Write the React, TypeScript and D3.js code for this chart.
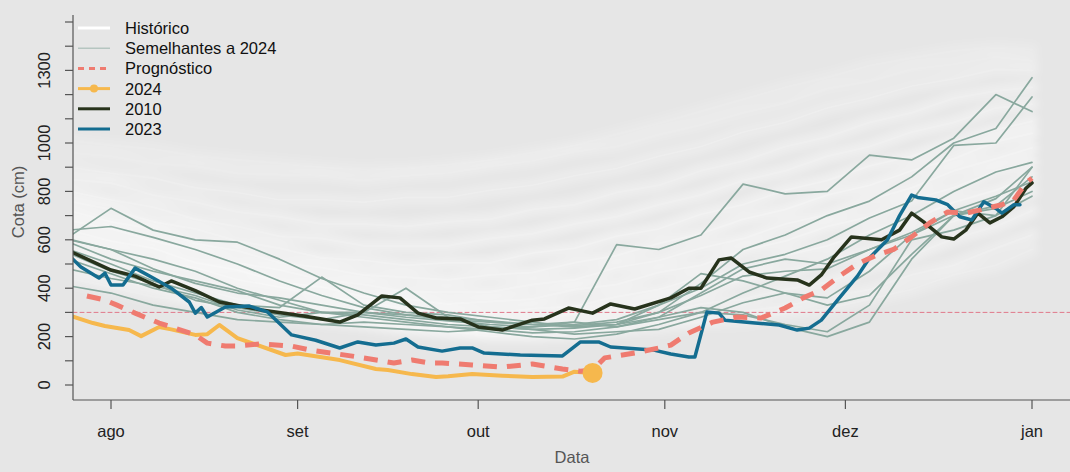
import * as React from "react";
import * as d3 from "d3";

// day offsets from 1 Aug 2024
const gridDays = [-7, 0, 7, 14, 21, 28, 35, 42, 49, 56, 63, 70, 77, 84, 91, 98, 105, 112, 119, 126, 133, 140, 147, 153];

const historico = [
  [1010, 990, 975, 945, 930, 915, 900, 890, 895, 910, 930, 960, 990, 1035, 1080, 1130, 1180, 1230, 1270, 1320, 1350, 1380, 1395, 1385],
  [960, 945, 915, 905, 875, 870, 865, 845, 865, 875, 905, 925, 965, 985, 1035, 1075, 1125, 1165, 1225, 1255, 1305, 1325, 1355, 1340],
  [900, 875, 855, 815, 795, 765, 765, 755, 775, 775, 805, 825, 865, 895, 945, 985, 1045, 1085, 1145, 1185, 1235, 1265, 1305, 1300],
  [850, 835, 785, 755, 715, 695, 665, 665, 655, 675, 685, 725, 745, 795, 825, 885, 925, 985, 1025, 1085, 1125, 1185, 1215, 1230],
  [800, 765, 735, 685, 655, 615, 605, 575, 575, 575, 605, 625, 665, 695, 745, 785, 845, 885, 945, 985, 1045, 1085, 1145, 1160],
  [760, 725, 675, 645, 595, 565, 525, 515, 495, 505, 505, 545, 565, 615, 645, 705, 745, 805, 845, 905, 945, 1005, 1055, 1090],
  [720, 675, 645, 585, 555, 505, 485, 455, 445, 435, 455, 465, 505, 535, 585, 625, 685, 725, 785, 825, 885, 935, 1005, 1040],
  [680, 645, 595, 555, 505, 475, 435, 415, 385, 385, 385, 415, 435, 485, 515, 565, 605, 665, 705, 765, 815, 885, 935, 980],
  [640, 595, 565, 505, 475, 425, 405, 365, 355, 335, 345, 355, 395, 415, 465, 495, 555, 595, 655, 695, 765, 815, 885, 920],
  [600, 565, 515, 485, 435, 405, 365, 345, 315, 305, 295, 315, 325, 365, 395, 445, 475, 535, 575, 635, 685, 755, 805, 860],
  [560, 515, 485, 435, 405, 355, 335, 305, 295, 265, 265, 265, 295, 315, 355, 385, 435, 465, 515, 555, 625, 675, 745, 800],
  [520, 485, 435, 405, 355, 335, 295, 285, 255, 245, 225, 235, 245, 275, 295, 335, 355, 395, 425, 485, 535, 605, 655, 720],
  [480, 435, 405, 355, 335, 295, 285, 255, 245, 215, 215, 205, 225, 235, 265, 275, 305, 325, 365, 395, 455, 495, 565, 620],
  [440, 405, 365, 345, 305, 295, 265, 255, 225, 220, 200, 205, 205, 230, 235, 260, 265, 295, 315, 355, 395, 455, 495, 560],
];
// weight of each historic line in the cloud (denser towards the middle)
const histDensity = [0.35, 0.45, 0.55, 0.7, 0.8, 0.9, 1, 1, 1, 0.95, 0.9, 0.8, 0.65, 0.5];

const semelhantes = [
  [640, 655, 610, 560, 500, 430, 370, 320, 290, 280, 265, 250, 260, 580, 560, 620, 830, 790, 800, 950, 930, 1020, 1200, 1130],
  [612, 730, 640, 600, 590, 520, 440, 380, 330, 300, 280, 260, 240, 250, 300, 420, 560, 620, 700, 760, 860, 1000, 1060, 1270],
  [603, 560, 480, 420, 380, 360, 330, 300, 280, 265, 250, 240, 250, 270, 330, 400, 500, 540, 600, 690, 760, 990, 1000, 1190],
  [590, 520, 470, 430, 390, 330, 300, 300, 290, 270, 260, 250, 245, 260, 300, 370, 450, 470, 480, 560, 620, 700, 770, 900],
  [560, 500, 430, 380, 330, 320, 446, 330, 300, 290, 260, 250, 240, 250, 330, 460, 430, 380, 330, 370, 540, 700, 740, 860],
  [410, 380, 330, 300, 270, 260, 250, 240, 230, 220, 230, 240, 260, 240, 280, 320, 300, 240, 200, 260, 520, 700, 730, 800],
  [545, 470, 420, 350, 320, 290, 270, 300, 400, 280, 240, 230, 210, 220, 230, 280, 340, 380, 360, 470, 620, 720, 700, 900],
  [520, 460, 400, 360, 300, 270, 250, 260, 250, 240, 230, 215, 220, 240, 270, 300, 290, 250, 220, 330, 600, 640, 700, 780],
  [480, 440, 410, 370, 310, 280, 300, 290, 270, 250, 240, 230, 235, 250, 280, 380, 480, 520, 500, 560, 630, 720, 780, 840],
  [600, 560, 520, 470, 400, 350, 300, 280, 260, 240, 220, 200, 190, 210, 250, 300, 380, 450, 520, 620, 700, 800, 880, 920],
];

const days2010 = [-7, 0, 4, 8, 10, 14, 18, 25, 32, 38, 41, 45, 48, 51, 54, 58, 61, 65, 70, 72, 76, 80, 83, 87, 93, 96, 98, 101, 103, 106, 109, 114, 116, 118, 120, 123, 128, 131, 133, 135, 138, 140, 142, 144, 146, 148, 150, 152, 153];
const cota2010 = [555, 475, 450, 405, 430, 390, 343, 310, 285, 260, 290, 368, 360, 297, 277, 273, 240, 227, 268, 273, 318, 297, 335, 314, 360, 400, 400, 517, 525, 467, 442, 434, 413, 455, 525, 612, 600, 640, 710, 674, 612, 603, 640, 710, 670, 695, 737, 813, 835];

const days2023 = [-7, -5, -2, -1, 0, 2, 4, 7, 10, 13, 14, 15, 16, 19, 23, 26, 30, 34, 38, 41, 44, 47, 49, 51, 55, 58, 60, 62, 68, 75, 78, 81, 83, 90, 93, 96, 97, 99, 101, 102, 107, 111, 114, 116, 118, 121, 124, 126, 129, 131, 133, 134, 137, 139, 141, 143, 145, 147, 148, 150, 151];
const cota2023 = [535, 488, 442, 462, 413, 413, 483, 442, 400, 343, 297, 320, 281, 322, 326, 302, 207, 185, 153, 178, 165, 173, 190, 157, 140, 153, 153, 132, 124, 120, 178, 178, 157, 145, 128, 116, 116, 302, 297, 268, 256, 248, 227, 235, 268, 360, 450, 525, 600, 700, 785, 775, 765, 745, 695, 682, 757, 730, 710, 745, 745];

const days2024 = [-7, -3, -1, 3, 5, 8, 10, 14, 16, 18, 21, 29, 31, 38, 44, 46, 50, 54, 56, 60, 65, 70, 75, 77, 80];
const cota2024 = [288, 256, 244, 227, 202, 240, 230, 207, 210, 248, 194, 124, 130, 103, 66, 62, 45, 33, 36, 45, 38, 33, 35, 55, 50];

const daysProg = [-4, -1, 1, 4, 8, 14, 16, 19, 21, 25, 30, 33, 41, 47, 50, 53, 55, 60, 65, 70, 75, 78, 80, 82, 87, 91, 93, 96, 100, 104, 108, 112, 115, 118, 121, 124, 127, 130, 133, 136, 139, 142, 145, 148, 150, 152, 153];
const cotaProg = [368, 351, 330, 297, 256, 207, 173, 161, 161, 170, 161, 145, 116, 91, 103, 91, 91, 83, 74, 87, 66, 57, 62, 112, 132, 153, 165, 215, 260, 281, 277, 318, 360, 393, 450, 500, 535, 560, 612, 670, 715, 710, 727, 745, 765, 835, 855];

const refLevel = 300;
const monthLabels = ["ago", "set", "out", "nov", "dez", "jan"];
const yTicks = d3.range(0, 1600, 100);
const yLabels = [0, 200, 400, 600, 800, 1000, 1300];

const legendItems = ["Histórico", "Semelhantes a 2024", "Prognóstico", "2024", "2010", "2023"];

const colors = {
  bg: "#e6e6e6",
  hist: "#ffffff",
  similar: "#89a89e",
  prog: "#ef7b70",
  y2024: "#f6b84d",
  y2010: "#27331c",
  y2023: "#146d90",
  ref: "#e0788a",
};

const start = Date.UTC(2024, 7, 1);
const toDate = (d: number) => d3.utcDay.offset(new Date(start), d);

const App = () => {
  const width = 1070;
  const height = 472;
  const left = 73;
  const bottom = 400;
  const top = 15;

  const x = d3
    .scaleUtc()
    .domain([new Date(start), new Date(Date.UTC(2025, 0, 1))])
    .range([111, 1032]);
  const y = d3.scaleLinear().domain([0, 1500]).range([385, 22]);

  const line = d3
    .line<[number, number]>()
    .x(p => x(toDate(p[0])))
    .y(p => y(p[1]));

  const zip = (ds: number[], vs: number[]) => ds.map((d, i) => [d, vs[i]] as [number, number]);

  const monthTicks = d3.utcMonth.range(new Date(start), new Date(Date.UTC(2025, 0, 2)));
  const font = "'Liberation Sans', Arial, Helvetica, sans-serif";
  const last2024 = days2024.length - 1;

  return (
    <svg
      width={width}
      height={height}
      style={{ position: "absolute", left: 0, top: 0, background: colors.bg }}
      fontFamily={font}
    >
      <defs>
        <clipPath id="plot">
          <rect x={left} y={top} width={width - left} height={bottom - top} />
        </clipPath>
        <filter id="cloud" x="-5%" y="-20%" width="110%" height="140%">
          <feGaussianBlur stdDeviation="3.5" />
        </filter>
      </defs>
      <rect width={width} height={height} fill={colors.bg} />

      <g clipPath="url(#plot)" fill="none" strokeLinejoin="round" strokeLinecap="round">
        <g filter="url(#cloud)">
          {historico.map((h, i) => (
            <path
              key={"h" + i}
              d={line(zip(gridDays, h)) || ""}
              stroke={colors.hist}
              strokeWidth={14}
              strokeOpacity={0.42 * histDensity[i]}
            />
          ))}
        </g>
        {historico.map((h, i) => (
          <path
            key={"hh" + i}
            d={line(zip(gridDays, h)) || ""}
            stroke={colors.hist}
            strokeWidth={2}
            strokeOpacity={0.2 * histDensity[i]}
          />
        ))}
        <line x1={left} x2={width} y1={y(refLevel)} y2={y(refLevel)} stroke={colors.ref} strokeWidth={1} strokeDasharray="4 3" />
        {semelhantes.map((s, i) => (
          <path key={"s" + i} d={line(zip(gridDays, s)) || ""} stroke={colors.similar} strokeWidth={1.7} />
        ))}
        <path d={line(zip(days2010, cota2010)) || ""} stroke={colors.y2010} strokeWidth={3.5} />
        <path d={line(zip(days2023, cota2023)) || ""} stroke={colors.y2023} strokeWidth={3.5} />
        <path d={line(zip(days2024, cota2024)) || ""} stroke={colors.y2024} strokeWidth={4} />
        <path
          d={line(zip(daysProg, cotaProg)) || ""}
          stroke={colors.prog}
          strokeWidth={5}
          strokeDasharray="14 10"
          strokeLinecap="butt"
        />
        <circle
          cx={x(toDate(days2024[last2024]))}
          cy={y(cota2024[last2024])}
          r={10}
          fill={colors.y2024}
          stroke="none"
        />
      </g>

      {/* axes */}
      <g stroke="#555" strokeWidth={1.2}>
        <line x1={left} x2={left} y1={top} y2={bottom} />
        <line x1={left} x2={width} y1={bottom} y2={bottom} />
        {yTicks.map(t => (
          <line key={t} x1={left - 8} x2={left} y1={y(t)} y2={y(t)} />
        ))}
        {monthTicks.map(m => (
          <line key={+m} x1={x(m)} x2={x(m)} y1={bottom} y2={bottom + 9} />
        ))}
      </g>
      <g fontSize={16.5} fill="#222">
        {yLabels.map(t => (
          <text key={t} transform={`translate(50,${y(t)}) rotate(-90)`} textAnchor="middle">
            {t}
          </text>
        ))}
        {monthTicks.map((m, i) => (
          <text key={+m} x={x(m)} y={437} textAnchor="middle">
            {monthLabels[i]}
          </text>
        ))}
      </g>
      <text x={572} y={463} textAnchor="middle" fontSize={16.5} fill="#555">
        Data
      </text>
      <text transform="translate(24,202) rotate(-90)" textAnchor="middle" fontSize={16.5} fill="#555">
        Cota (cm)
      </text>

      {/* legend */}
      <g>
        {legendItems.map((name, i) => {
          const ly = 28 + i * 20.2;
          let sample: React.ReactNode = null;
          if (i === 0) sample = <line x1={78} x2={110} y1={ly} y2={ly} stroke={colors.hist} strokeWidth={3} />;
          if (i === 1) sample = <line x1={78} x2={110} y1={ly} y2={ly} stroke="#a9bdb6" strokeWidth={1.2} />;
          if (i === 2)
            sample = (
              <line x1={78} x2={110} y1={ly} y2={ly} stroke={colors.prog} strokeWidth={3} strokeDasharray="6 5" />
            );
          if (i === 3)
            sample = (
              <g>
                <line x1={78} x2={110} y1={ly} y2={ly} stroke={colors.y2024} strokeWidth={3} />
                <circle cx={94} cy={ly} r={4} fill={colors.y2024} />
              </g>
            );
          if (i === 4) sample = <line x1={78} x2={110} y1={ly} y2={ly} stroke={colors.y2010} strokeWidth={3} />;
          if (i === 5) sample = <line x1={78} x2={110} y1={ly} y2={ly} stroke={colors.y2023} strokeWidth={3} />;
          return (
            <g key={name}>
              {sample}
              <text x={125} y={ly + 6} fontSize={16.5} fill="#111">
                {name}
              </text>
            </g>
          );
        })}
      </g>
    </svg>
  );
};

export default App;
